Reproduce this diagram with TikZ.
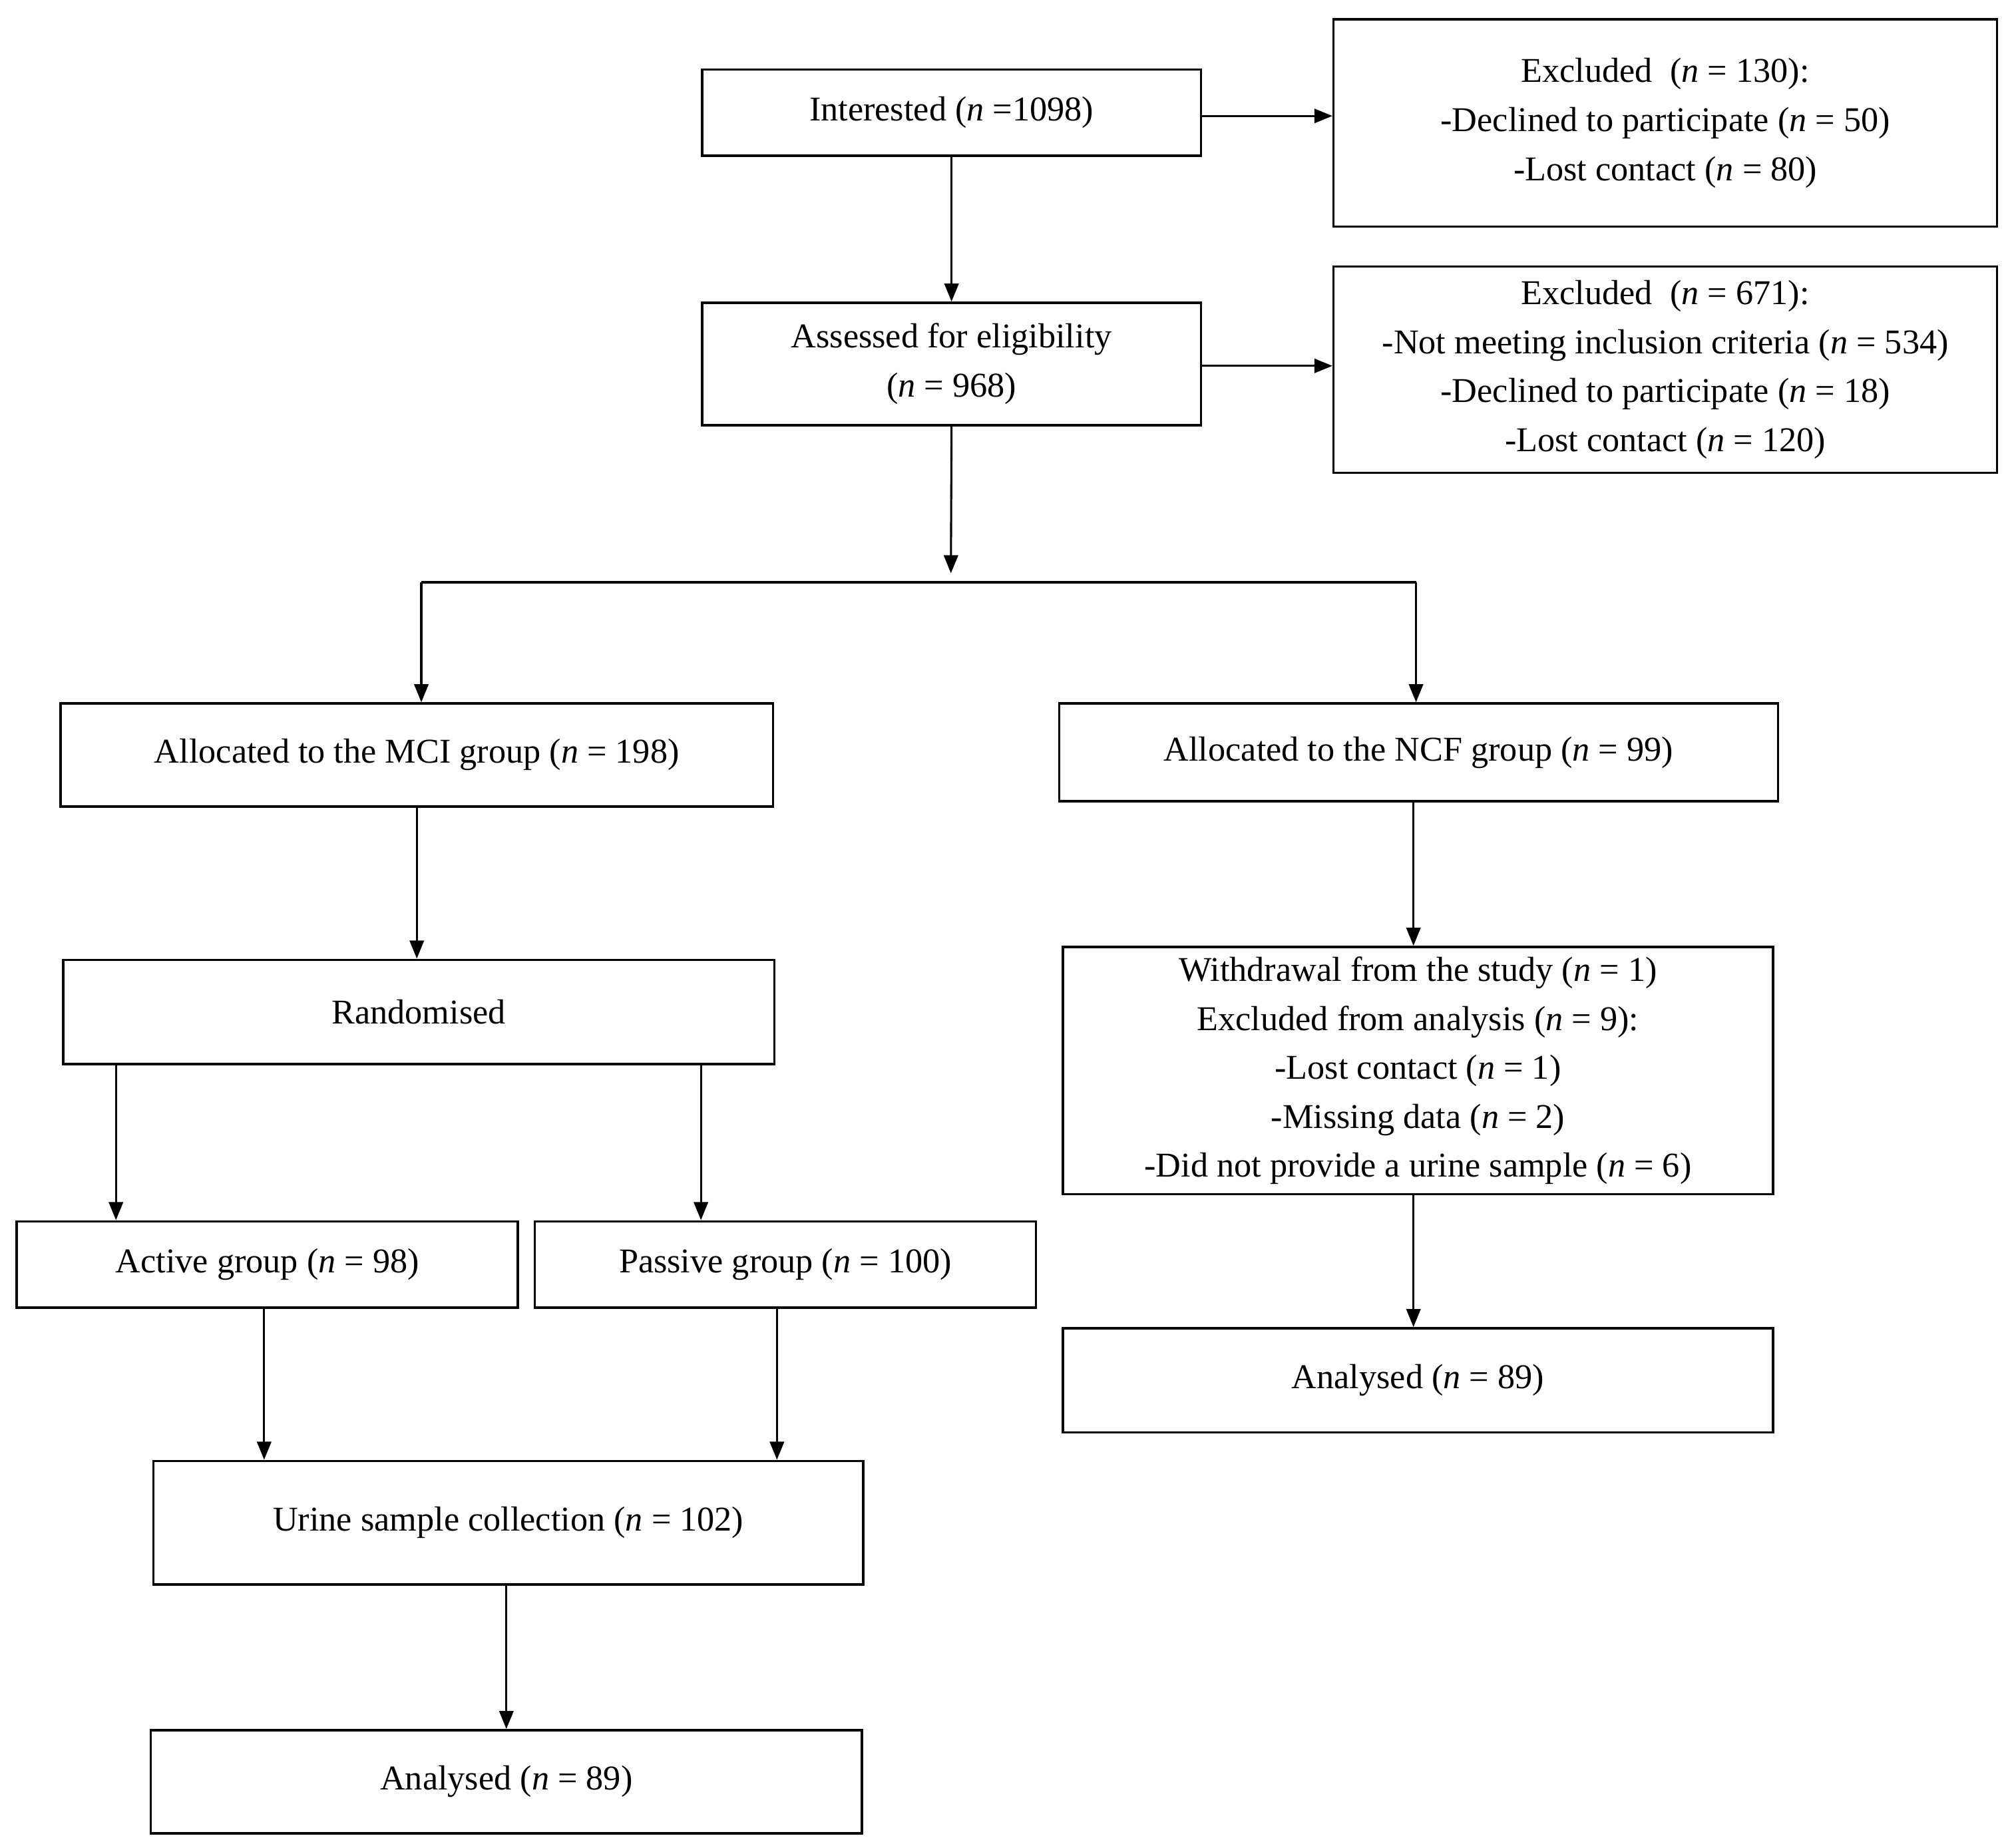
\documentclass[tikz,border=0pt]{standalone}
\usepackage{fontspec}
\setmainfont{Liberation Serif}
\usetikzlibrary{arrows.meta}
\begin{document}
\begin{tikzpicture}[x=1pt,y=-1pt,
  box/.style={draw,line width=1.8pt,align=center,inner sep=0pt,font=\fontsize{27}{38}\selectfont},
  arr/.style={line width=1.6pt,-{Triangle[length=14pt,width=11pt]}},
  ln/.style={line width=1.6pt}]
\useasboundingbox (0,0) rectangle (1560,1434);
\newcommand{\bx}[6]{\node[box,minimum width=#4-#2,minimum height=#5-#3] (#1) at ({(#2+#4)/2},{(#3+#5)/2}) {#6};}
\bx{int}{545}{54}{932}{121}{Interested (\textit{n} =1098)}
\bx{ex1}{1035}{15}{1550}{176}{Excluded\ \ (\textit{n} = 130):\\-Declined\ to participate (\textit{n} = 50)\\-Lost contact (\textit{n} = 80)}
\bx{ass}{545}{235}{932}{330}{Assessed for eligibility\\(\textit{n} = 968)}
\bx{ex2}{1035}{207}{1550}{367}{Excluded\ \ (\textit{n} = 671):\\-Not meeting\ inclusion criteria\ (\textit{n} = 534)\\-Declined\ to participate (\textit{n} = 18)\\-Lost contact (\textit{n} = 120)}
\bx{mci}{47}{546}{600}{626}{Allocated to the MCI group (\textit{n} = 198)}
\bx{ncf}{822}{546}{1380}{622}{Allocated to the NCF\ group (\textit{n} = 99)}
\bx{rand}{49}{745}{601}{826}{Randomised}
\bx{wd}{825}{735}{1376}{927}{Withdrawal from\ the study (\textit{n} = 1)\\Excluded\ from analysis (\textit{n} = 9):\\-Lost contact (\textit{n} = 1)\\-Missing data (\textit{n} = 2)\\-Did not provide a urine sample (\textit{n} = 6)}
\bx{act}{13}{948}{402}{1015}{Active group (\textit{n} = 98)}
\bx{pas}{415}{948}{804}{1015}{Passive group (\textit{n} = 100)}
\bx{anr}{825}{1031}{1376}{1112}{Analysed (\textit{n} = 89)}
\bx{uri}{119}{1134}{670}{1230}{Urine\ sample collection\ (\textit{n} = 102)}
\bx{anl}{117}{1343}{669}{1423}{Analysed (\textit{n} = 89)}
\draw[arr] (int.east |- 0,90) -- (ex1.west |- 0,90);
\draw[arr] (int) -- (ass);
\draw[arr] (ass.east |- 0,284) -- (ex2.west |- 0,284);
\coordinate (s1) at (738,445);
\coordinate (sl) at (327,452);
\coordinate (sr) at (1099,452);
\draw[arr] (ass.south) -- (s1);
\draw[ln] (sl) -- (sr);
\draw[arr] (sl) -- (sl |- mci.north);
\draw[arr] (sr) -- (sr |- ncf.north);
\draw[arr] (mci.south) -- (rand.north -| mci.south);
\coordinate (n1) at (1097,622);
\draw[arr] (n1) -- (n1 |- wd.north);
\draw[arr] (wd.south -| n1) -- (n1 |- anr.north);
\coordinate (ra) at (90,826);
\coordinate (rp) at (544,826);
\draw[arr] (ra) -- (ra |- act.north);
\draw[arr] (rp) -- (rp |- pas.north);
\coordinate (au) at (205,1015);
\coordinate (pu) at (603,1015);
\draw[arr] (au) -- (au |- uri.north);
\draw[arr] (pu) -- (pu |- uri.north);
\coordinate (u1) at (393,1230);
\draw[arr] (u1) -- (u1 |- anl.north);
\end{tikzpicture}
\end{document}
